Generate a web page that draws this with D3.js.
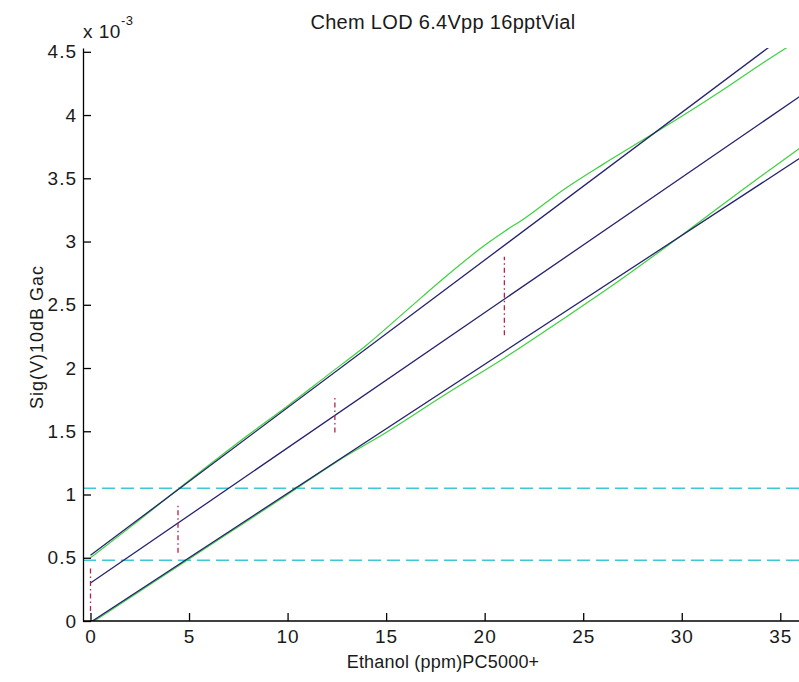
<!DOCTYPE html>
<html>
<head>
<meta charset="utf-8">
<script src="https://cdn.jsdelivr.net/npm/d3@7"></script>
<style>
  body { margin: 0; background: #fff; }
  svg { display: block; font-family: "Liberation Sans", Arial, sans-serif; }
</style>
</head>
<body>
<div id="chart"></div>
<script>
// values in units of 1e-3 V
const fitX = [0, 36];
const fitMid = [0.30, 4.148];
const fitUpper = [0.52, 4.72];
const fitLower = [-0.01, 3.66];

const greenUpperX = [0, 2, 5, 8, 10, 12, 14, 16, 18, 20, 21, 22, 24, 26, 28, 30, 32, 34, 36];
const greenUpperY = [0.50, 0.74, 1.11, 1.47, 1.70, 1.94, 2.18, 2.45, 2.72, 2.97, 3.08, 3.18, 3.41, 3.61, 3.80, 3.99, 4.19, 4.40, 4.60];
const greenLowerX = [0, 5, 10, 12.5, 15, 18, 21, 24, 27, 30, 33, 36];
const greenLowerY = [-0.02, 0.49, 1.00, 1.26, 1.49, 1.79, 2.08, 2.39, 2.71, 3.05, 3.40, 3.74];

const errX = [0, 4.44, 12.4, 21.0];
const errLo = [0.08, 0.54, 1.49, 2.26];
const errHi = [0.42, 0.92, 1.77, 2.88];

const lodY = [0.48, 1.05];

const xTicks = [0, 5, 10, 15, 20, 25, 30, 35];
const yTicks = [0, 0.5, 1, 1.5, 2, 2.5, 3, 3.5, 4, 4.5];

const width = 799, height = 682;
const margin = {top: 48, right: 0, bottom: 61, left: 83};

const svg = d3.select("#chart").append("svg")
  .attr("width", width)
  .attr("height", height);

svg.append("rect").attr("width", width).attr("height", height).attr("fill", "#fff");

const x = d3.scaleLinear().domain([-0.38, 36.0]).range([margin.left, 800]);
const y = d3.scaleLinear().domain([0, 4.53]).range([height - margin.bottom, margin.top]);

svg.append("clipPath").attr("id", "plotclip")
  .append("rect")
  .attr("x", margin.left).attr("y", margin.top)
  .attr("width", width - margin.left).attr("height", height - margin.bottom - margin.top);

const plot = svg.append("g").attr("clip-path", "url(#plotclip)");

const line = d3.line().x(d => x(d[0])).y(d => y(d[1]));
const smooth = d3.line().x(d => x(d[0])).y(d => y(d[1])).curve(d3.curveMonotoneX);

// LOD thresholds
plot.selectAll("line.lod")
  .data(lodY)
  .enter().append("line")
  .attr("class", "lod")
  .attr("x1", margin.left)
  .attr("x2", width)
  .attr("y1", d => y(d))
  .attr("y2", d => y(d))
  .attr("stroke", "#3cc8d4")
  .attr("stroke-width", 1.6)
  .attr("stroke-dasharray", "13,6");

// green bands
plot.append("path")
  .datum(greenUpperX.map((d, i) => [d, greenUpperY[i]]))
  .attr("d", smooth)
  .attr("fill", "none")
  .attr("stroke", "#3cd23c")
  .attr("stroke-width", 1.2);

plot.append("path")
  .datum(greenLowerX.map((d, i) => [d, greenLowerY[i]]))
  .attr("d", smooth)
  .attr("fill", "none")
  .attr("stroke", "#3cd23c")
  .attr("stroke-width", 1.2);

// fit and its bounds
[fitUpper, fitMid, fitLower].forEach(ys => {
  plot.append("path")
    .datum(fitX.map((d, i) => [d, ys[i]]))
    .attr("d", line)
    .attr("fill", "none")
    .attr("stroke", "#26246e")
    .attr("stroke-width", 1.3);
});

// error bars
plot.selectAll("line.err")
  .data(errX)
  .enter().append("line")
  .attr("class", "err")
  .attr("x1", d => x(d))
  .attr("x2", d => x(d))
  .attr("y1", (d, i) => y(errLo[i]))
  .attr("y2", (d, i) => y(errHi[i]))
  .attr("stroke", "#b8204c")
  .attr("stroke-width", 1.3)
  .attr("stroke-dasharray", "5,3,1.5,3");

// axes
const xAxis = d3.axisBottom(x)
  .tickValues(xTicks)
  .tickSizeInner(-8)
  .tickSizeOuter(0)
  .tickPadding(9);

const yAxis = d3.axisLeft(y)
  .tickValues(yTicks)
  .tickSizeInner(-8)
  .tickSizeOuter(0)
  .tickPadding(6)
  .tickFormat(d3.format("~g"));

const gx = svg.append("g")
  .attr("transform", `translate(0,${height - margin.bottom})`)
  .call(xAxis);

const gy = svg.append("g")
  .attr("transform", `translate(${margin.left},0)`)
  .call(yAxis);

[gx, gy].forEach(g => {
  g.select(".domain").attr("stroke", "#000").attr("stroke-width", 1.3);
  g.selectAll(".tick line").attr("stroke", "#000").attr("stroke-width", 1.3);
  g.selectAll(".tick text")
    .attr("fill", "#1a1a1a")
    .style("font-size", "19px")
    .style("letter-spacing", "1px")
    .style("font-family", "'Liberation Sans', Arial, sans-serif");
});
// domain ends exactly at the plot area
gx.select(".domain").attr("d", `M${margin.left},0H${width}`);

// exponent label
const expo = svg.append("text")
  .attr("x", margin.left)
  .attr("y", 38)
  .attr("fill", "#1a1a1a")
  .style("font-size", "19px")
  .style("letter-spacing", "0.5px");
expo.append("tspan").text("x 10");
expo.append("tspan").attr("dy", -13).style("font-size", "13px").text("-3");

// title
svg.append("text")
  .attr("x", 443)
  .attr("y", 29)
  .attr("text-anchor", "middle")
  .attr("fill", "#1a1a1a")
  .style("font-size", "20px")
  .style("letter-spacing", "0.3px")
  .text("Chem LOD 6.4Vpp 16pptVial");

// x label
svg.append("text")
  .attr("x", 443)
  .attr("y", 668)
  .attr("text-anchor", "middle")
  .attr("fill", "#1a1a1a")
  .style("font-size", "18px")
  .style("letter-spacing", "0.2px")
  .text("Ethanol (ppm)PC5000+");

// y label
svg.append("text")
  .attr("transform", "translate(43,337) rotate(-90)")
  .attr("text-anchor", "middle")
  .attr("fill", "#1a1a1a")
  .style("font-size", "18px")
  .style("letter-spacing", "1px")
  .text("Sig(V)10dB Gac");
</script>
</body>
</html>
